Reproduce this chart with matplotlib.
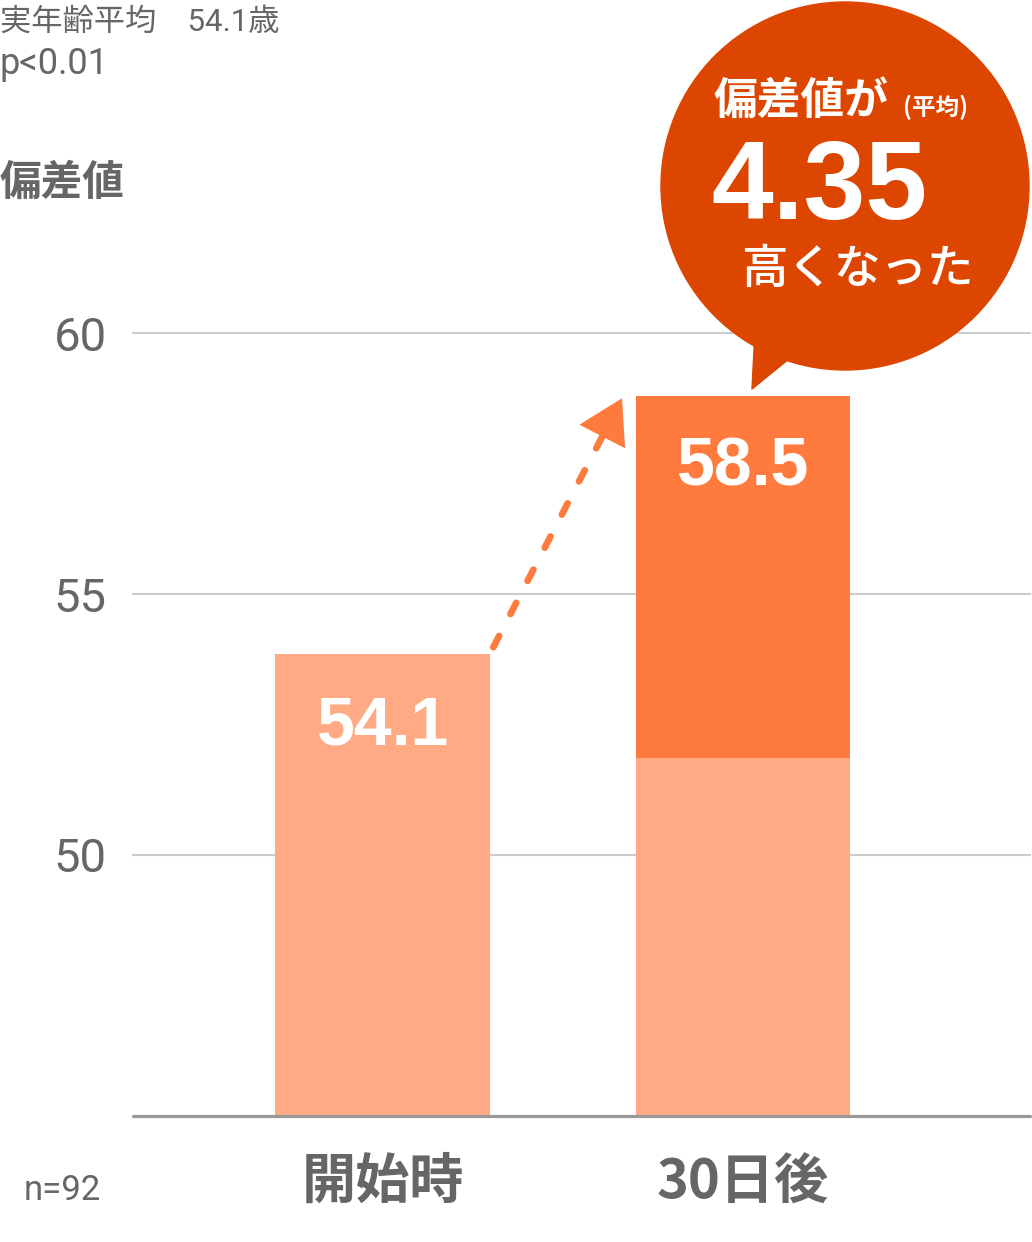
import numpy as np
import matplotlib.pyplot as plt
from matplotlib.patches import Circle, Polygon

plt.rcParams['font.family'] = ['Noto Sans CJK JP', 'DejaVu Sans']

## data
categories = ['開始時', '30日後']
base_values = [53.85, 51.85]      # light part of each bar
gain_values = [0.0, 6.95]         # dark part stacked on top
bar_labels = ['54.1', '58.5']
y_ticks = [50, 55, 60]
gain_text = '4.35'
n_text = 'n=92'

light = '#FFAA85'
dark = '#FF7A3D'
bubble_col = '#DC4600'
gray = '#666666'
latin = ['Liberation Sans', 'Noto Sans CJK JP']
thin = ['Roboto', 'Noto Sans CJK JP']

W, H = 1032, 1242
fig = plt.figure(figsize=(W / 100, H / 100), dpi=100)

# main axes: x from 133px to 1030px, y from 1116px (45) to 333px (60)
ax = fig.add_axes([133 / W, (H - 1116) / H, (1030 - 133) / W, (1116 - 333) / H])
x = np.arange(len(categories))
width = 0.597
tops = np.array(base_values) + np.array(gain_values)

ax.bar(x, base_values, width, color=light, zorder=2)
ax.bar(x, gain_values, width, bottom=base_values, color=dark, zorder=2)

ax.set_xlim(-0.694, 1.797)
ax.set_ylim(45, 60)
ax.set_yticks(y_ticks)
ax.set_yticklabels([str(t) for t in y_ticks], fontsize=34, color=gray,
                   family=thin)
ax.set_xticks(x)
ax.set_xticklabels(categories, fontsize=39, fontweight='bold', color=gray)
ax.tick_params(axis='both', length=0)
ax.tick_params(axis='y', pad=19)
ax.tick_params(axis='x', pad=28)
for t in y_ticks:
    ax.axhline(t, color='#cccccc', lw=1.5, zorder=1, clip_on=False)
for s in ['top', 'right', 'left']:
    ax.spines[s].set_visible(False)
ax.spines['bottom'].set_color('#999999')
ax.spines['bottom'].set_linewidth(2.3)
ax.spines['bottom'].set_capstyle('round')
ax.spines['bottom'].set_zorder(3)

for xi, top, lab in zip(x, tops, bar_labels):
    ax.annotate(lab, (xi, top), xytext=(0, -52), textcoords='offset points',
                ha='center', va='center', color='white', fontsize=49,
                fontweight='bold', family=latin)

# dashed arrow from top of first bar to top of second bar
start = (x[0] + width / 2 + 0.008, tops[0] + 0.13)
end = (x[1] - width / 2 - 0.0375, tops[1] - 0.05)
ax.annotate('', xy=end, xytext=start,
            arrowprops=dict(arrowstyle='-', color=dark, lw=4.8,
                            linestyle=(0, (1.9, 3.7)), capstyle='round',
                            shrinkA=0, shrinkB=22),
            annotation_clip=False)
ax.annotate('', xy=end, xytext=(end[0] - (end[0] - start[0]) * 0.02,
                                end[1] - (end[1] - start[1]) * 0.02),
            arrowprops=dict(arrowstyle='-|>,head_length=3.1,head_width=1.85',
                            color=dark, lw=0, mutation_scale=10,
                            shrinkA=0, shrinkB=0),
            annotation_clip=False)

# overlay in pixel coordinates for the bubble and free texts
ov = fig.add_axes([0, 0, 1, 1])
ov.set_xlim(0, W)
ov.set_ylim(H, 0)
ov.axis('off')
ov.patch.set_alpha(0)

ov.add_patch(Circle((845, 186), 184, color=bubble_col, zorder=1))
ov.add_patch(Polygon([(755, 330), (800, 350), (752, 389)], closed=True,
                     color=bubble_col, zorder=1, joinstyle='round'))
ov.text(714, 101, '偏差値が', color='white', fontsize=31.5, fontweight='bold',
        ha='left', va='center')
ov.text(903, 107, '(平均)', color='white', fontsize=17, fontweight='bold',
        ha='left', va='center')
ov.text(711, 190, gain_text, color='white', fontsize=80, fontweight='bold',
        ha='left', va='center', family=latin)
ov.text(741, 269, '高くなった', color='white', fontsize=33.5, fontweight='medium',
        ha='left', va='center')

ov.text(0, 22, '実年齢平均　54.1歳', color=gray, fontsize=22.5,
        ha='left', va='center', family=thin)
ov.text(0, 64, 'p<0.01', color=gray, fontsize=26,
        ha='left', va='center', family=thin)
ov.text(0, 183, '偏差値', color=gray, fontsize=30, fontweight='bold',
        ha='left', va='center')
ov.text(24, 1190, n_text, color=gray, fontsize=25, ha='left', va='center',
        family=thin)

fig.savefig('out.png', dpi=100)
